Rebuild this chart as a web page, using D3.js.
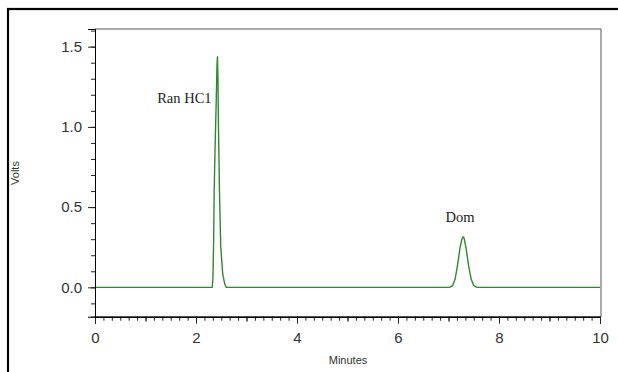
<!DOCTYPE html>
<html>
<head>
<meta charset="utf-8">
<script src="https://cdn.jsdelivr.net/npm/d3@7"></script>
<style>
  body { margin: 0; background: #fff; }
  svg { display: block; }
</style>
</head>
<body>
<svg width="618" height="372"></svg>
<script>
// chromatogram trace (minutes, volts)
var minutes = [0, 2.32, 2.335, 2.35, 2.36, 2.38, 2.40, 2.415, 2.425, 2.435, 2.445, 2.465, 2.49, 2.53, 2.57, 2.60,
               7.02, 7.08, 7.13, 7.18, 7.23, 7.27, 7.29, 7.31, 7.35, 7.40, 7.45, 7.50, 7.56, 10]
var volts   = [0, 0, 0.05, 0.3, 0.6, 0.9, 1.15, 1.38, 1.44, 1.3, 1.0, 0.6, 0.25, 0.08, 0.02, 0,
               0, 0.01, 0.05, 0.14, 0.25, 0.305, 0.314, 0.305, 0.24, 0.13, 0.05, 0.012, 0, 0]

var peakNames = ["Ran HC1", "Dom"]
var peakLabelTimes = [1.77, 7.23]
var peakLabelVolts = [1.15, 0.41]

var xMajor = [0, 2, 4, 6, 8, 10]
var yMajor = [0.0, 0.5, 1.0, 1.5]

var svg = d3.select("svg")
var plotL = 95, plotR = 601, plotT = 29, plotB = 316.7

var x = d3.scaleLinear().domain([0, 10]).range([plotL, plotR - 1])
var y = d3.scaleLinear().domain([-0.183, 1.61]).range([plotB, plotT])

// outer frame (cropped on right/bottom)
svg.append("rect")
  .attr("x", 8).attr("y", 9)
  .attr("width", 700).attr("height", 500)
  .attr("fill", "none")
  .attr("stroke", "#000")
  .attr("stroke-width", 2.2)

// plot box top/right
svg.append("path")
  .attr("d", "M" + plotL + "," + plotT + "H" + plotR + "V" + plotB)
  .attr("fill", "none")
  .attr("stroke", "#555")
  .attr("stroke-width", 1)

var data = minutes.map(function(m, i){ return [m, volts[i]] })

var line = d3.line()
  .x(function(d){ return x(d[0]) })
  .y(function(d){ return y(d[1]) })

svg.append("path")
  .datum(data)
  .attr("d", line)
  .attr("fill", "none")
  .attr("stroke", "#2e8a2e")
  .attr("stroke-width", 1.4)

// x axis
var xMinor = d3.range(0, 60.5).map(function(i){ return i / 6 })
var xUnit = d3.range(0, 11)
var gx = svg.append("g").attr("transform", "translate(0," + plotB + ")")
gx.append("g").call(d3.axisBottom(x).tickValues(xMinor).tickSize(4).tickFormat(""))
gx.append("g").call(d3.axisBottom(x).tickValues(xUnit).tickSize(5).tickFormat(""))
gx.append("g").call(d3.axisBottom(x).tickValues(xMajor).tickSize(7).tickFormat(d3.format("d")))
gx.selectAll("path.domain").attr("stroke", "#000")
gx.selectAll(".tick line").attr("stroke", "#222")
gx.selectAll("text")
  .attr("font-family", "Arial, 'Liberation Sans', sans-serif")
  .attr("font-size", 15)
  .attr("fill", "#333")
  .attr("dy", "1.1em")

// y axis
var yMinor = d3.range(-1, 17).map(function(i){ return i / 10 })
var gy = svg.append("g").attr("transform", "translate(" + plotL + ",0)")
gy.append("g").call(d3.axisLeft(y).tickValues(yMinor).tickSize(4).tickFormat(""))
gy.append("g").call(d3.axisLeft(y).tickValues(yMajor).tickSize(7).tickFormat(d3.format(".1f")))
gy.selectAll("path.domain").attr("stroke", "#000")
gy.selectAll(".tick line").attr("stroke", "#222")
gy.selectAll("text")
  .attr("font-family", "Arial, 'Liberation Sans', sans-serif")
  .attr("font-size", 15)
  .attr("fill", "#333")
  .attr("x", -13)

// axis titles
svg.append("text")
  .attr("x", (plotL + plotR) / 2)
  .attr("y", 364)
  .attr("text-anchor", "middle")
  .attr("font-family", "Arial, 'Liberation Sans', sans-serif")
  .attr("font-size", 11)
  .attr("fill", "#333")
  .text("Minutes")

svg.append("text")
  .attr("transform", "translate(19,173) rotate(-90)")
  .attr("text-anchor", "middle")
  .attr("font-family", "Arial, 'Liberation Sans', sans-serif")
  .attr("font-size", 11)
  .attr("fill", "#333")
  .text("Volts")

// peak labels
svg.append("g").selectAll("text")
  .data(peakNames)
  .enter()
  .append("text")
  .attr("x", function(d, i){ return x(peakLabelTimes[i]) })
  .attr("y", function(d, i){ return y(peakLabelVolts[i]) })
  .attr("text-anchor", "middle")
  .attr("font-family", "'Liberation Serif', 'Times New Roman', serif")
  .attr("font-size", 14.5)
  .attr("fill", "#222")
  .text(function(d){ return d })
</script>
</body>
</html>
